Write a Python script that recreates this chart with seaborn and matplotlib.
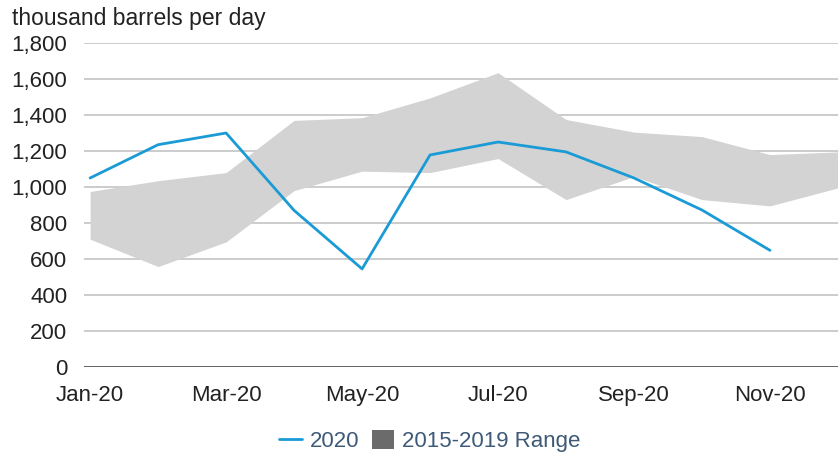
import numpy as np
import pandas as pd
import matplotlib
matplotlib.use('Agg')
import matplotlib.pyplot as plt
import seaborn as sns
from matplotlib.lines import Line2D
from matplotlib.patches import Patch

# данные
months = ['Jan-20', 'Feb-20', 'Mar-20', 'Apr-20', 'May-20', 'Jun-20',
          'Jul-20', 'Aug-20', 'Sep-20', 'Oct-20', 'Nov-20', 'Dec-20']
line_2020 = [1050, 1235, 1300, 870, 545, 1178, 1250, 1195, 1050, 872, 648]
range_low = [710, 558, 695, 980, 1088, 1080, 1158, 930, 1058, 930, 895, 995]
range_high = [975, 1035, 1080, 1370, 1385, 1495, 1635, 1375, 1305, 1280, 1180, 1195]
yticks = [0, 200, 400, 600, 800, 1000, 1200, 1400, 1600, 1800]

sns.set_theme(style='white')
plt.rcParams['font.family'] = ['Liberation Sans', 'DejaVu Sans']

fig = plt.figure(figsize=(8.38, 4.54), dpi=100)
ax = fig.add_axes([84 / 838, 1 - 367 / 454, 1 - 84 / 838, (367 - 43) / 454])

x_all = np.arange(len(months))
df = pd.DataFrame({'x': x_all[:len(line_2020)], 'v': line_2020})

ax.fill_between(x_all, range_low, range_high, color='#d3d3d3', lw=0, zorder=1)
for t in yticks[1:]:
    ax.axhline(t, color='#c4c4c4', lw=1.2, zorder=0.5)
ax.axhline(0, color='#555555', lw=1.3, zorder=2)
sns.lineplot(data=df, x='x', y='v', ax=ax, color='#1a9bd6', lw=2, zorder=3)

ax.set_xlim(-0.09, 11.0)
ax.set_ylim(0, 1800)
ax.set_yticks(yticks)
ax.set_yticklabels([f'{t:,}' for t in yticks])
ax.set_xticks(x_all[::2])
ax.set_xticklabels(months[::2])
ax.tick_params(axis='both', labelsize=16, colors='#222222', length=0)
ax.tick_params(axis='y', pad=12)
ax.tick_params(axis='x', pad=13)
ax.set_xlabel('')
ax.set_ylabel('')
for s in ax.spines.values():
    s.set_visible(False)

fig.text(12 / 838, 1 - 18 / 454, 'thousand barrels per day', fontsize=16.5,
         color='#222222', va='center', ha='left')

handles = [Line2D([0], [0], color='#1a9bd6', lw=2),
           Patch(facecolor='#6b6b6b', edgecolor='none')]
leg = fig.legend(handles, ['2020', '2015-2019 Range'], loc='center',
                 bbox_to_anchor=(430 / 838, 1 - 441 / 454), ncol=2, frameon=False,
                 fontsize=16, handlelength=1.0, handleheight=0.9,
                 handletextpad=0.35, columnspacing=0.6)
for txt in leg.get_texts():
    txt.set_color('#3e5a78')

fig.savefig('out.png', dpi=100)
